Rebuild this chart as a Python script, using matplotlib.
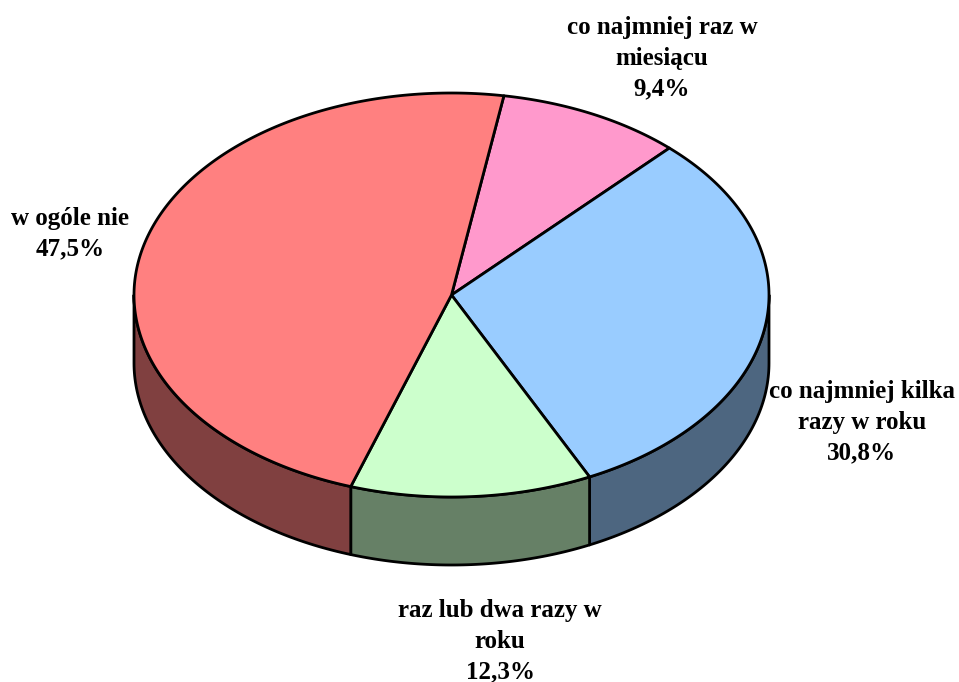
import numpy as np
import matplotlib
matplotlib.use('Agg')
import matplotlib.pyplot as plt
from matplotlib.patches import Polygon

labels = ['co najmniej raz w\nmiesiącu', 'co najmniej kilka\nrazy w roku',
          'raz lub dwa razy w\nroku', 'w ogóle nie']
values = [9.4, 30.8, 12.3, 47.5]
pct_text = ['9,4%', '30,8%', '12,3%', '47,5%']
top_colors = ['#FF99CC', '#99CCFF', '#CCFFCC', '#FF8080']
side_colors = ['#804D66', '#4D6680', '#668066', '#804040']

# ellipse geometry (pixel coords)
CX, CY = 451.5, 295.0
RX, RY = 317.5, 202.0
DEPTH = 68.0
START = 80.5

# label positions (centre of text block)
label_pos = [(662, 58), (862, 422), (500, 641), (70, 234)]

fig = plt.figure(figsize=(9.59, 6.82), dpi=100)
ax = fig.add_axes([0, 0, 1, 1])
ax.set_xlim(0, 959)
ax.set_ylim(682, 0)
ax.axis('off')

def pt(a, dy=0.0):
    r = np.radians(a)
    return CX + RX * np.cos(r), CY - RY * np.sin(r) + dy

angles = [START]
for v in values:
    angles.append(angles[-1] - v / sum(values) * 360.0)

lw = 2.0
# side walls (front half only: angles between -180 and 0)
for i in range(len(values)):
    a1, a2 = angles[i], angles[i + 1]  # a1 > a2
    hi = min(a1, 0.0)
    lo = max(a2, -180.0)
    if hi <= lo:
        continue
    t = np.linspace(hi, lo, 80)
    top = [pt(a) for a in t]
    bot = [pt(a, DEPTH) for a in t[::-1]]
    ax.add_patch(Polygon(top + bot, closed=True, facecolor=side_colors[i],
                         edgecolor='black', lw=lw, joinstyle='round'))

# top sectors
for i in range(len(values)):
    a1, a2 = angles[i], angles[i + 1]
    t = np.linspace(a1, a2, 200)
    verts = [(CX, CY)] + [pt(a) for a in t]
    ax.add_patch(Polygon(verts, closed=True, facecolor=top_colors[i],
                         edgecolor='black', lw=lw, joinstyle='round'))

for (x, y), lab, p in zip(label_pos, labels, pct_text):
    ax.text(x, y, lab + '\n' + p, ha='center', va='center', fontsize=18,
            fontweight='bold', family='Liberation Serif', linespacing=1.42)

fig.savefig('out.png', dpi=100)
